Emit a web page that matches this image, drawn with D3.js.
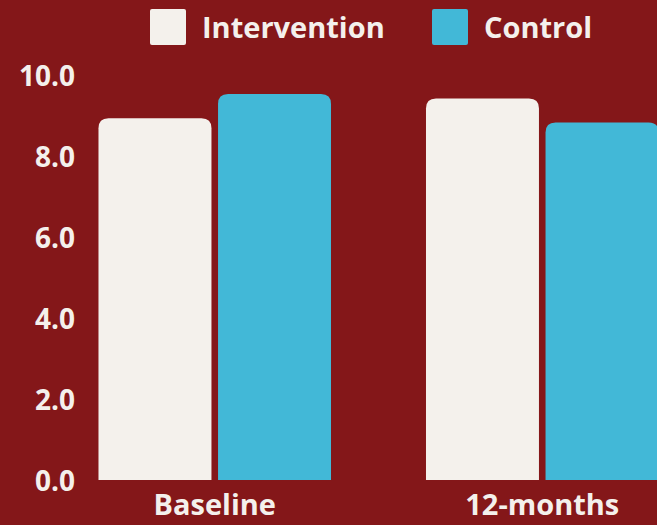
<!DOCTYPE html>
<html><head><meta charset="utf-8">
<script src="https://cdn.jsdelivr.net/npm/d3@7"></script>
<style>
html,body{margin:0;padding:0;background:#841719;overflow:hidden;}
svg{display:block;}
text{font-family:"Open Sans",sans-serif;font-weight:700;fill:#F4F0EC;}
</style></head>
<body>
<script>
const categories = ["Baseline", "12-months"];
const seriesNames = ["Intervention", "Control"];
const interventionValues = [8.93, 9.42];
const controlValues = [9.53, 8.83];
const yTicks = [0, 2, 4, 6, 8, 10];
const colors = ["#F4F1EC", "#42B8D7"];

const W = 657, H = 525;
const svg = d3.select("body").append("svg").attr("width", W).attr("height", H);
svg.append("rect").attr("width", W).attr("height", H).attr("fill", "#841719");

const y = d3.scaleLinear().domain([0, 10]).range([480, 75]);
const x0 = d3.scaleBand().domain(categories).range([51, 706]).paddingInner(0.29).paddingOuter(0.145);
const x1 = d3.scaleBand().domain(seriesNames).range([0, x0.bandwidth()]).paddingInner(0.055);

const data = categories.map((c, i) => ({cat: c, vals: [interventionValues[i], controlValues[i]]}));

function topRounded(x, yTop, w, yBot, r) {
  r = Math.min(r, w / 2, (yBot - yTop));
  return `M${x},${yBot}V${yTop + r}Q${x},${yTop} ${x + r},${yTop}H${x + w - r}Q${x + w},${yTop} ${x + w},${yTop + r}V${yBot}Z`;
}

const g = svg.append("g");
data.forEach(d => {
  d.vals.forEach((v, j) => {
    const bx = x0(d.cat) + x1(seriesNames[j]);
    g.append("path")
      .attr("d", topRounded(bx, y(v), x1.bandwidth(), y(0), 10))
      .attr("fill", colors[j]);
  });
});

// Y axis
const yAxis = d3.axisLeft(y).tickValues(yTicks).tickFormat(d3.format(".1f")).tickSize(0).tickPadding(0);
const ya = svg.append("g").attr("transform", "translate(75,0)").call(yAxis);
ya.select(".domain").remove();
ya.selectAll("text").attr("font-size", 28).attr("fill", "#F4F0EC").attr("font-family", "Open Sans").attr("font-weight", 700).attr("dy", "0.36em");

// X axis
const xAxis = d3.axisBottom(x0).tickSize(0).tickPadding(0);
const xa = svg.append("g").attr("transform", "translate(0,494)").call(xAxis);
xa.select(".domain").remove();
xa.selectAll("text").attr("font-size", 29).attr("fill", "#F4F0EC").attr("font-family", "Open Sans").attr("font-weight", 700).attr("dy", "0.71em");

// Legend
const legendX = [150, 432];
const leg = svg.append("g");
seriesNames.forEach((s, i) => {
  leg.append("rect").attr("x", legendX[i]).attr("y", 9).attr("width", 36).attr("height", 36).attr("rx", 2).attr("fill", colors[i]);
  leg.append("text").attr("x", legendX[i] + 52).attr("y", 28).attr("dy", "0.35em").attr("font-size", 29).text(s);
});
</script>
</body></html>
